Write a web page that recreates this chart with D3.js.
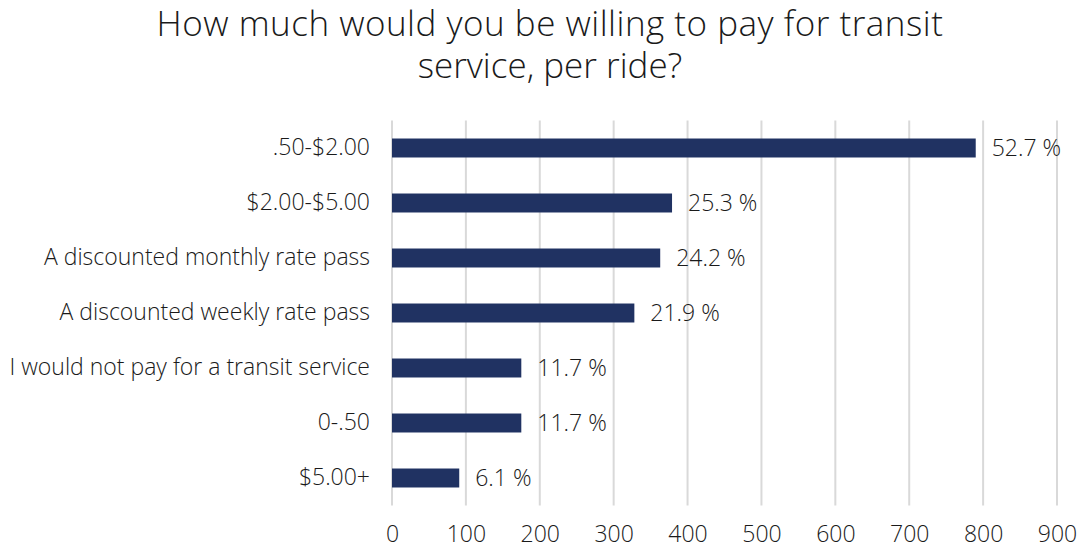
<!DOCTYPE html>
<html>
<head>
<meta charset="utf-8">
<script src="https://cdn.jsdelivr.net/npm/d3@7"></script>
<style>
  html, body { margin: 0; padding: 0; background: #fff; }
  svg { display: block; font-family: "Open Sans", "Noto Sans", sans-serif; }
</style>
</head>
<body>
<svg id="chart" width="1079" height="548"></svg>
<script>
// Survey answers, top to bottom
const categories = [
  ".50-$2.00",
  "$2.00-$5.00",
  "A discounted monthly rate pass",
  "A discounted weekly rate pass",
  "I would not pay for a transit service",
  "0-.50",
  "$5.00+"
];
// Number of respondents per answer
const counts = [790, 379, 363, 328, 175, 175, 91];
// Share of respondents, shown at the end of each bar
const percents = [52.7, 25.3, 24.2, 21.9, 11.7, 11.7, 6.1];
const xTicks = [0, 100, 200, 300, 400, 500, 600, 700, 800, 900];
const titleLines = ["How much would you be willing to pay for transit", "service, per ride?"];

const svg = d3.select("#chart");
const margin = { left: 392, right: 22, top: 120.5, bottom: 42.5 };
const W = 1079, H = 548;
const textColor = "#1a1a1a";
const labelSize = 23;

const x = d3.scaleLinear().domain([0, 900]).range([margin.left, W - margin.right]);
const y = d3.scaleBand().domain(categories).range([margin.top, H - margin.bottom]).paddingInner(0.655).paddingOuter(0.3275);

// Title, two centred lines
svg.append("g").selectAll("text").data(titleLines).join("text")
  .attr("x", 550).attr("y", (d, i) => 36 + i * 42)
  .attr("text-anchor", "middle")
  .attr("font-size", 35).attr("fill", textColor)
  .attr("font-weight", 300)
  .attr("letter-spacing", (d, i) => i === 0 ? 0.5 : 0)
  .text(d => d);

// Vertical gridlines
svg.append("g").selectAll("line").data(xTicks).join("line")
  .attr("x1", d => x(d)).attr("x2", d => x(d))
  .attr("y1", margin.top).attr("y2", H - margin.bottom)
  .attr("stroke", "#d9d9d9").attr("stroke-width", 2);

// x axis tick labels
const xAxis = d3.axisBottom(x).tickValues(xTicks).tickSize(0).tickPadding(20);
const gx = svg.append("g").attr("transform", `translate(0,${H - margin.bottom})`).call(xAxis);
gx.select(".domain").remove();
gx.selectAll("text").attr("font-size", 23).attr("fill", textColor).attr("font-weight", 300).attr("font-family", "\"Open Sans\", sans-serif");

// y axis category labels
const yAxis = d3.axisLeft(y).tickSize(0).tickPadding(22);
const gy = svg.append("g").attr("transform", `translate(${margin.left},0)`).call(yAxis);
gy.select(".domain").remove();
gy.selectAll("text").attr("font-size", labelSize).attr("fill", textColor).attr("font-weight", 300).attr("font-family", "\"Open Sans\", sans-serif");

// Bars
svg.append("g").selectAll("rect").data(categories).join("rect")
  .attr("x", x(0))
  .attr("y", d => y(d))
  .attr("width", (d, i) => x(counts[i]) - x(0))
  .attr("height", y.bandwidth())
  .attr("fill", "#203262");

// Value labels
svg.append("g").selectAll("text").data(categories).join("text")
  .attr("x", (d, i) => x(counts[i]) + 16)
  .attr("y", d => y(d) + y.bandwidth() / 2)
  .attr("dy", "0.35em")
  .attr("font-size", labelSize).attr("fill", textColor).attr("font-weight", 300)
  .text((d, i) => percents[i].toFixed(1) + " %");
</script>
</body>
</html>
